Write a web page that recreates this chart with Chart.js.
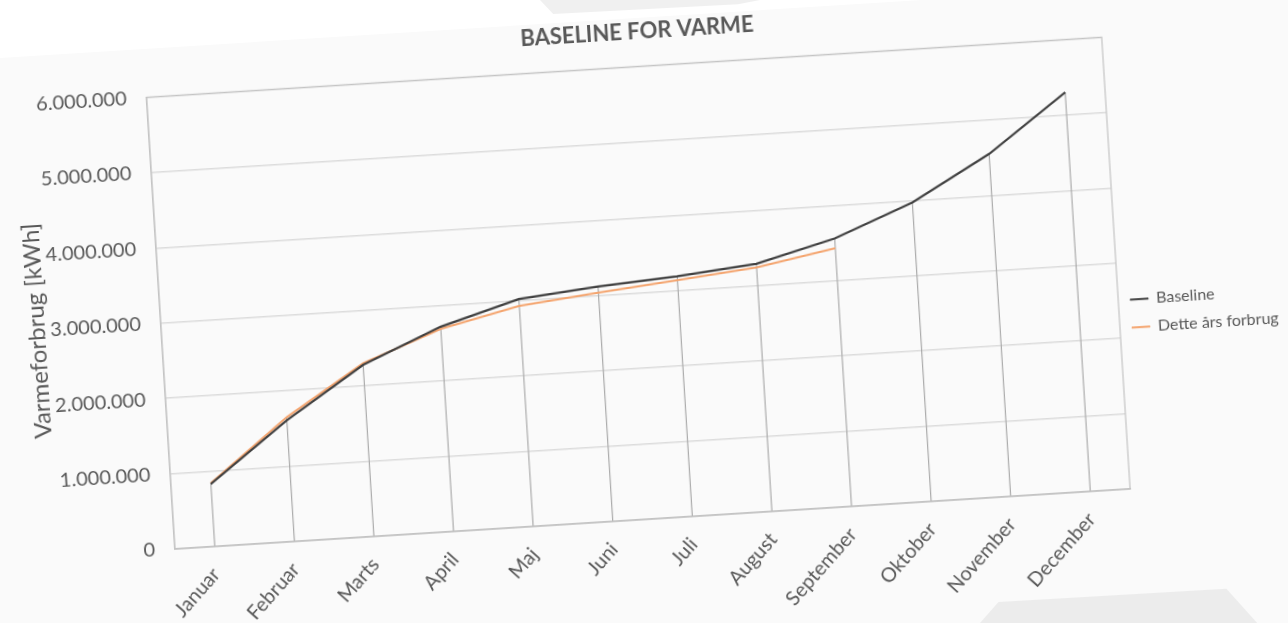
<!DOCTYPE html>
<html>
<head>
<meta charset="utf-8">
<script src="https://cdn.jsdelivr.net/npm/chart.js@4/dist/chart.umd.min.js"></script>
<style>
  html, body { margin: 0; padding: 0; background: #ffffff; overflow: hidden; width: 1288px; height: 623px; }
  #wrap {
    position: absolute; left: 0; top: 0;
    width: 1300px; height: 720px;
    transform-origin: 175px 549px;
    transform: rotate(-3.6deg);
  }
  #bg { position: absolute; left: -40px; right: -40px; top: 48px; bottom: 0; background: #fafafa; }
  #holder { position: absolute; left: 0; top: 0; width: 1300px; height: 660px; }
  .shape { position: absolute; background: #ececec; z-index: 2; }
</style>
</head>
<body>
<div id="wrap"><div id="bg"></div><div id="holder"><canvas id="varme-chart"></canvas></div></div>
<div class="shape" style="left:540px;top:0;width:220px;height:14px;background:#f0f0f0;clip-path:polygon(0 0,100% 0,90% 30%,6% 100%);"></div>
<div class="shape" style="left:980px;top:585px;width:308px;height:38px;clip-path:polygon(0 100%,6% 45%,80% 10%,90% 100%);"></div>
<script>
var maaneder = ['Januar', 'Februar', 'Marts', 'April', 'Maj', 'Juni', 'Juli', 'August', 'September', 'Oktober', 'November', 'December'];
var baseline = [830000, 1610000, 2280000, 2720000, 3020000, 3120000, 3190000, 3290000, 3560000, 3970000, 4550000, 5300000];
var detteAar = [840000, 1650000, 2300000, 2690000, 2930000, 3040000, 3140000, 3240000, 3430000, null, null, null];
var yTicks = [0, 1000000, 2000000, 3000000, 4000000, 5000000, 6000000];

var tekstFarve = '#595959';

function tusind(v) {
    return String(v).replace(/\B(?=(\d{3})+(?!\d))/g, '.');
}

// Excel style drop lines + plot area frame
var dropLines = {
    id: 'dropLines',
    beforeDatasetsDraw: function (chart) {
        var ctx = chart.ctx;
        var area = chart.chartArea;
        var metas = [chart.getDatasetMeta(0), chart.getDatasetMeta(1)];
        ctx.save();
        ctx.strokeStyle = '#ababab';
        ctx.lineWidth = 1.2;
        for (var i = 0; i < maaneder.length; i++) {
            var x = null, y = null;
            metas.forEach(function (m, k) {
                var val = chart.data.datasets[k].data[i];
                if (val === null || val === undefined) return;
                var p = m.data[i];
                if (x === null) x = p.x;
                if (y === null || p.y < y) y = p.y;
            });
            if (x === null) continue;
            ctx.beginPath();
            ctx.moveTo(x, y);
            ctx.lineTo(x, area.bottom);
            ctx.stroke();
        }
        ctx.strokeStyle = '#c4c4c4';
        ctx.lineWidth = 1.2;
        ctx.strokeRect(area.left, area.top, area.right - area.left, area.bottom - area.top);
        ctx.restore();
    }
};

var ctx = document.getElementById('varme-chart').getContext('2d');

var chart = new Chart(ctx, {
    type: 'line',
    data: {
        labels: maaneder,
        datasets: [{
            label: 'Baseline',
            data: baseline,
            borderColor: '#404040',
            backgroundColor: '#404040',
            borderWidth: 2.2,
            pointRadius: 0,
            tension: 0
        }, {
            label: 'Dette års forbrug',
            data: detteAar,
            borderColor: '#f4a46e',
            backgroundColor: '#f4a46e',
            borderWidth: 2,
            pointRadius: 0,
            tension: 0,
            spanGaps: false
        }]
    },
    options: {
        responsive: true,
        maintainAspectRatio: false,
        animation: false,
        layout: {
            padding: { left: 37, right: 0, top: 0, bottom: 0 }
        },
        plugins: {
            title: {
                display: true,
                text: 'BASELINE FOR VARME',
                color: tekstFarve,
                font: { family: 'Lato', size: 22, weight: 'bold' },
                padding: { top: 49, bottom: 21 }
            },
            legend: {
                position: 'right',
                maxWidth: 168,
                title: {
                    display: true,
                    text: '',
                    font: { size: 12 },
                    padding: { top: 37, bottom: 37 }
                },
                labels: {
                    boxWidth: 18,
                    boxHeight: 1,
                    padding: 12,
                    color: tekstFarve,
                    font: { family: 'Lato', size: 16 },
                    generateLabels: function (chart) {
                        var items = Chart.defaults.plugins.legend.labels.generateLabels(chart);
                        items.forEach(function (it) { it.lineWidth = 1; });
                        return items;
                    }
                }
            },
            tooltip: { enabled: false }
        },
        scales: {
            x: {
                offset: true,
                grid: { display: false },
                border: { display: true, color: '#c4c4c4', width: 1.5 },
                ticks: {
                    autoSkip: false,
                    minRotation: 45,
                    maxRotation: 45,
                    padding: 8,
                    color: tekstFarve,
                    font: { family: 'Lato', size: 20 }
                },
                afterFit: function (scale) { scale.height = 660 - 549; }
            },
            y: {
                min: 0,
                max: 6000000,
                afterBuildTicks: function (scale) {
                    scale.ticks = yTicks.map(function (v) { return { value: v }; });
                },
                grid: { color: '#dcdcdc', lineWidth: 1.5, drawTicks: false },
                border: { display: true, color: '#c4c4c4', width: 1.2 },
                ticks: {
                    padding: 20,
                    color: tekstFarve,
                    font: { family: 'Lato', size: 20 },
                    callback: function (v) { return tusind(v); }
                },
                title: {
                    display: true,
                    text: 'Varmeforbrug [kWh]',
                    color: tekstFarve,
                    font: { family: 'Lato', size: 24 },
                    padding: { top: 0, bottom: 0 }
                },
                afterFit: function (scale) { scale.width = 175 - 37; }
            }
        }
    },
    plugins: [dropLines]
});
</script>
</body>
</html>
